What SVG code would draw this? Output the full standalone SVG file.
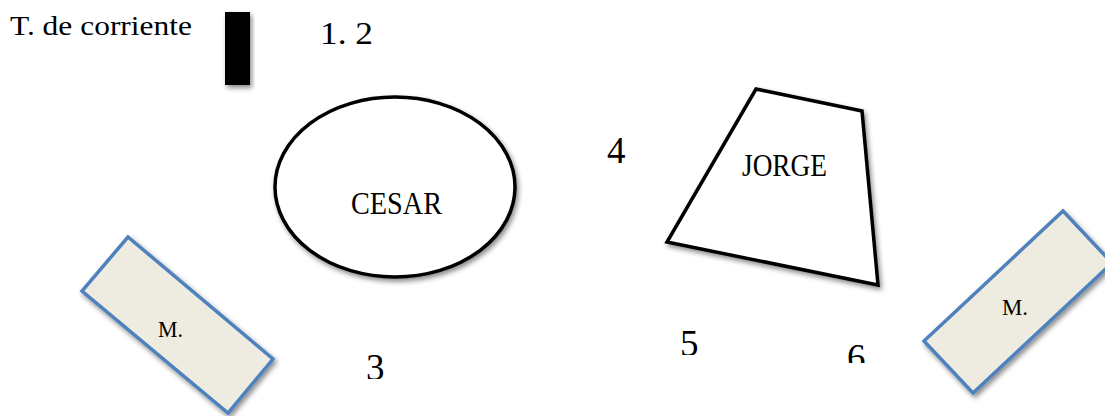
<svg xmlns="http://www.w3.org/2000/svg" width="1105" height="416" viewBox="0 0 1105 416">
<style>
.t{font-family:"Liberation Serif","DejaVu Serif",serif;fill:#000}
.shape{fill:#fff;stroke:#000;stroke-width:3.5;stroke-linejoin:miter}
.m{fill:#EEECE1;stroke:#4F81BD;stroke-width:3.5}
</style>
<defs>
<filter id="sh" x="-20%" y="-20%" width="140%" height="140%">
<feDropShadow dx="2" dy="3" stdDeviation="2.5" flood-color="#000" flood-opacity="0.45"/>
</filter>
<clipPath id="c3"><rect x="340" y="330" width="80" height="49"/></clipPath>
<clipPath id="c5"><rect x="660" y="310" width="60" height="45"/></clipPath>
<clipPath id="c6"><rect x="830" y="320" width="60" height="43"/></clipPath>
</defs>
<rect width="1105" height="416" fill="#fff"/>
<g id="corriente">
<text class="t" x="10" y="35" font-size="27" textLength="182" lengthAdjust="spacingAndGlyphs">T. de corriente</text>
<rect x="225" y="12" width="25" height="73" fill="#000" filter="url(#sh)"/>
</g>
<g id="n12"><text class="t" x="320" y="44" font-size="32" textLength="53" lengthAdjust="spacingAndGlyphs">1. 2</text></g>
<g id="cesar">
<ellipse class="shape" cx="395" cy="187" rx="120" ry="90" filter="url(#sh)"/>
<text class="t" x="351" y="214" font-size="32" textLength="91" lengthAdjust="spacingAndGlyphs">CESAR</text>
</g>
<g id="n4"><text class="t" x="607" y="163" font-size="37">4</text></g>
<g id="jorge">
<polygon class="shape" points="756,89 862,111 878,285 667,242" filter="url(#sh)"/>
<text class="t" x="742" y="176" font-size="32" textLength="85" lengthAdjust="spacingAndGlyphs">JORGE</text>
</g>
<g id="m1">
<polygon class="m" points="128,237 273,359 228,413 82,291" filter="url(#sh)"/>
<text class="t" x="158" y="337" font-size="24" textLength="25" lengthAdjust="spacingAndGlyphs">M.</text>
</g>
<g id="m2">
<polygon class="m" points="1063,211 1112,263 973,393 924,341" filter="url(#sh)"/>
<text class="t" x="1002" y="315" font-size="24" textLength="26" lengthAdjust="spacingAndGlyphs">M.</text>
</g>
<g id="n3"><text class="t" x="366" y="380" font-size="37" clip-path="url(#c3)">3</text></g>
<g id="n5"><text class="t" x="680" y="356" font-size="37" clip-path="url(#c5)">5</text></g>
<g id="n6"><text class="t" x="847" y="370" font-size="37" clip-path="url(#c6)">6</text></g>
<g id="connectors"></g>
</svg>
